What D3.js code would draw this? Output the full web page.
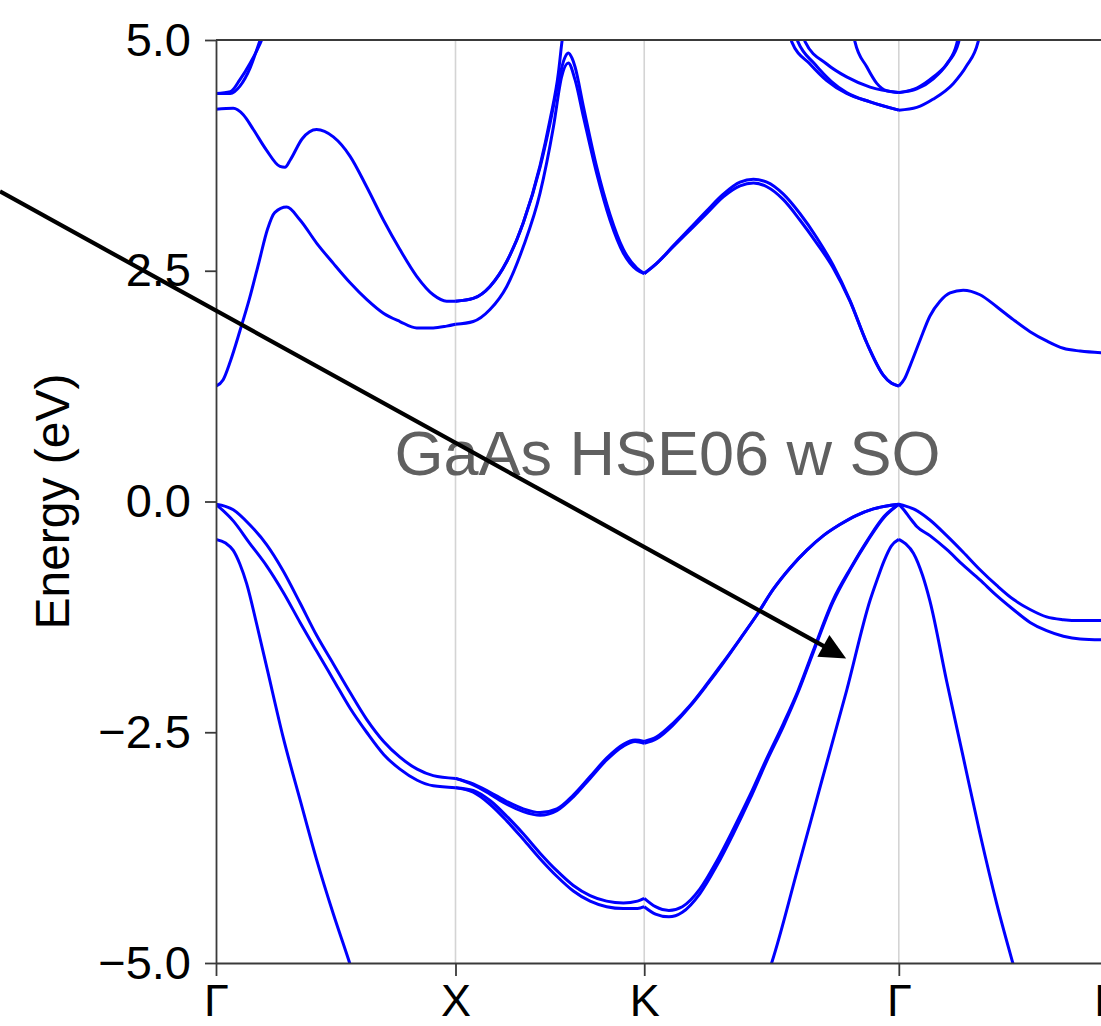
<!DOCTYPE html>
<html>
<head>
<meta charset="utf-8">
<script src="https://cdn.jsdelivr.net/npm/d3@7"></script>
<style>
  body { margin: 0; background: #fff; }
  text { font-family: "Liberation Sans", Arial, Helvetica, sans-serif; }
</style>
</head>
<body>
<div id="chart"></div>
<script>
// high-symmetry points along the path (k in 2pi/a)
var kNodes = [0, 1.0, 1.788, 2.851, 3.717];
var kLabels = ["Γ", "X", "K", "Γ", "L"];
var yTicks = [-5, -2.5, 0, 2.5, 5];

// bands, one array of segments each (k, energy in eV)
var splitOff = [
  [[0,-0.41],[0.04,-0.45],[0.072,-0.53],[0.10,-0.68],[0.128,-0.89],[0.17,-1.33],[0.215,-1.83],[0.28,-2.55],[0.354,-3.26],[0.42,-3.88],[0.49,-4.47],[0.558,-5.0],[0.6,-5.35]],
  [[2.28,-5.3],[2.32,-5.0],[2.43,-3.97],[2.53,-3.02],[2.633,-2.05],[2.731,-1.07],[2.76,-0.85],[2.79,-0.64],[2.82,-0.48],[2.851,-0.41]],
  [[2.851,-0.41],[2.88,-0.46],[2.912,-0.56],[2.95,-0.80],[2.981,-1.08],[3.051,-1.95],[3.12,-2.77],[3.19,-3.60],[3.26,-4.36],[3.327,-5.0],[3.36,-5.3]]
];
var heavyHole1 = [
  [[0,-0.03],[0.072,-0.09],[0.14,-0.25],[0.212,-0.47],[0.28,-0.75],[0.351,-1.1],[0.42,-1.45],[0.49,-1.76],[0.56,-2.07],[0.629,-2.36],[0.70,-2.6],[0.768,-2.77],[0.84,-2.9],[0.907,-2.97],[1.0,-3.0]],
  [[1.0,-3.0],[1.074,-3.06],[1.144,-3.15],[1.214,-3.25],[1.283,-3.33],[1.353,-3.37],[1.423,-3.33],[1.492,-3.18],[1.562,-2.98],[1.631,-2.78],[1.701,-2.63],[1.75,-2.585],[1.788,-2.6]],
  [[1.788,-2.6],[1.84,-2.55],[1.909,-2.40],[1.979,-2.21],[2.049,-1.98],[2.118,-1.74],[2.188,-1.49],[2.258,-1.23],[2.327,-0.95],[2.397,-0.72],[2.466,-0.53],[2.536,-0.37],[2.605,-0.25],[2.675,-0.15],[2.745,-0.08],[2.851,-0.03]],
  [[2.851,-0.03],[2.88,-0.05],[2.912,-0.08],[2.981,-0.20],[3.051,-0.37],[3.12,-0.55],[3.19,-0.74],[3.26,-0.91],[3.329,-1.06],[3.399,-1.17],[3.468,-1.25],[3.538,-1.28],[3.608,-1.29],[3.717,-1.29]]
];
var heavyHole2 = [
  [[1.0,-3.0],[1.074,-3.07],[1.144,-3.17],[1.214,-3.28],[1.283,-3.36],[1.353,-3.40],[1.423,-3.35],[1.492,-3.2],[1.562,-3.0],[1.631,-2.8],[1.701,-2.65],[1.75,-2.6],[1.788,-2.62]],
  [[1.788,-2.62],[1.84,-2.57],[1.909,-2.42],[1.979,-2.22],[2.049,-1.99],[2.118,-1.75],[2.188,-1.49],[2.258,-1.23],[2.327,-0.95],[2.397,-0.72],[2.466,-0.53],[2.536,-0.37],[2.605,-0.25],[2.675,-0.15],[2.745,-0.08],[2.851,-0.03]]
];
var lightHole1 = [
  [[0,-0.03],[0.072,-0.21],[0.14,-0.45],[0.212,-0.70],[0.28,-0.98],[0.351,-1.31],[0.42,-1.62],[0.49,-1.93],[0.56,-2.24],[0.629,-2.50],[0.70,-2.74],[0.768,-2.90],[0.84,-3.02],[0.907,-3.08],[1.0,-3.10]],
  [[1.0,-3.10],[1.074,-3.13],[1.144,-3.24],[1.214,-3.41],[1.283,-3.60],[1.353,-3.81],[1.423,-4.0],[1.492,-4.16],[1.562,-4.27],[1.631,-4.33],[1.701,-4.35],[1.76,-4.33],[1.788,-4.30]],
  [[1.788,-4.30],[1.835,-4.39],[1.891,-4.43],[1.947,-4.39],[2.02,-4.2],[2.09,-3.9],[2.16,-3.55],[2.23,-3.18],[2.30,-2.78],[2.37,-2.40],[2.43,-2.05],[2.493,-1.62],[2.576,-1.07],[2.65,-0.72],[2.72,-0.42],[2.79,-0.16],[2.851,-0.03]],
  [[2.851,-0.03],[2.875,-0.10],[2.898,-0.18],[2.926,-0.27],[2.981,-0.37],[3.051,-0.52],[3.12,-0.69],[3.19,-0.85],[3.26,-1.02],[3.329,-1.17],[3.399,-1.31],[3.468,-1.40],[3.538,-1.46],[3.608,-1.49],[3.717,-1.50]]
];
var lightHole2 = [
  [[1.0,-3.10],[1.074,-3.15],[1.144,-3.28],[1.214,-3.46],[1.283,-3.66],[1.353,-3.87],[1.423,-4.06],[1.492,-4.22],[1.562,-4.33],[1.631,-4.39],[1.701,-4.41],[1.76,-4.41],[1.788,-4.39]],
  [[1.788,-4.39],[1.835,-4.47],[1.891,-4.50],[1.947,-4.45],[2.02,-4.25],[2.09,-3.95],[2.16,-3.60],[2.23,-3.22],[2.30,-2.81],[2.37,-2.43],[2.43,-2.07],[2.493,-1.64],[2.576,-1.09],[2.65,-0.73],[2.72,-0.43],[2.79,-0.17],[2.851,-0.03]]
];
var cond1 = [
  [[0,1.25],[0.03,1.32],[0.06,1.52],[0.1,1.85],[0.14,2.2],[0.18,2.6],[0.215,2.95],[0.245,3.13],[0.295,3.19],[0.351,3.05],[0.42,2.80],[0.49,2.58],[0.56,2.37],[0.629,2.19],[0.699,2.04],[0.768,1.95],[0.838,1.88],[0.907,1.88],[0.963,1.90],[1.0,1.92]],
  [[1.0,1.92],[1.074,1.95],[1.144,2.08],[1.214,2.33],[1.283,2.76],[1.353,3.34],[1.409,4.06],[1.443,4.60],[1.471,4.75],[1.499,4.57],[1.534,4.17],[1.589,3.56],[1.645,3.05],[1.701,2.69],[1.757,2.51],[1.788,2.47]],
  [[1.788,2.47],[1.84,2.58],[1.909,2.76],[1.979,2.94],[2.049,3.12],[2.118,3.30],[2.188,3.42],[2.244,3.45],[2.30,3.41],[2.369,3.27],[2.438,3.05],[2.508,2.80],[2.577,2.53],[2.647,2.17],[2.717,1.72],[2.786,1.37],[2.821,1.28],[2.851,1.25]],
  [[2.851,1.25],[2.875,1.33],[2.898,1.47],[2.94,1.75],[2.981,2.01],[3.023,2.17],[3.065,2.26],[3.12,2.29],[3.19,2.24],[3.26,2.11],[3.329,1.97],[3.399,1.84],[3.468,1.74],[3.538,1.66],[3.608,1.63],[3.717,1.61]]
];
var cond2 = [
  [[0,4.25],[0.072,4.26],[0.114,4.19],[0.156,4.03],[0.21,3.81],[0.267,3.63],[0.288,3.62],[0.31,3.70],[0.36,3.93],[0.42,4.03],[0.49,3.95],[0.56,3.74],[0.629,3.41],[0.699,3.05],[0.768,2.73],[0.838,2.44],[0.907,2.24],[0.963,2.17],[1.0,2.17]],
  [[1.0,2.17],[1.074,2.20],[1.144,2.33],[1.214,2.60],[1.283,3.02],[1.353,3.62],[1.395,4.10],[1.43,4.55],[1.455,4.80],[1.471,4.86],[1.487,4.80],[1.499,4.71],[1.534,4.28],[1.589,3.63],[1.645,3.11],[1.701,2.73],[1.757,2.53],[1.788,2.47]],
  [[1.788,2.47],[1.84,2.58],[1.909,2.77],[1.979,2.96],[2.049,3.15],[2.118,3.33],[2.188,3.46],[2.244,3.49],[2.30,3.46],[2.369,3.33],[2.438,3.12],[2.508,2.86],[2.577,2.56],[2.647,2.18],[2.717,1.72],[2.786,1.37],[2.821,1.28],[2.851,1.25]]
];
var cond3 = [
  [[1.0,2.17],[1.074,2.20],[1.144,2.33],[1.214,2.60],[1.283,3.02],[1.353,3.64],[1.395,4.14],[1.43,4.65],[1.443,4.95],[1.46,5.3]],
  [[2.38,5.2],[2.404,4.98],[2.48,4.74],[2.55,4.56],[2.633,4.42],[2.731,4.33],[2.851,4.24]],
  [[2.851,4.24],[2.926,4.27],[2.995,4.36],[3.079,4.53],[3.134,4.72],[3.182,4.98],[3.2,5.2]]
];
var cond4 = [
  [[0,4.42],[0.06,4.44],[0.1,4.57],[0.143,4.75],[0.184,4.96],[0.22,5.2]],
  [[2.40,5.2],[2.43,4.98],[2.50,4.74],[2.57,4.55],[2.633,4.43],[2.731,4.33],[2.851,4.24]],
  [[2.851,4.43],[2.926,4.47],[2.995,4.58],[3.051,4.74],[3.093,4.96],[3.11,5.2]]
];
var cond5 = [
  [[0,4.42],[0.06,4.42],[0.1,4.50],[0.143,4.70],[0.175,4.93],[0.21,5.2]],
  [[2.44,5.2],[2.46,4.98],[2.55,4.74],[2.633,4.60],[2.731,4.49],[2.851,4.43]],
  [[2.851,4.43],[2.926,4.48],[2.995,4.60],[3.058,4.76],[3.10,4.97],[3.12,5.2]]
];
var cond6 = [
  [[2.655,5.2],[2.668,4.98],[2.717,4.71],[2.759,4.53],[2.80,4.45],[2.851,4.43]]
];

// annotation (text position, arrow start and tip in data units)
var annText = "GaAs HSE06 w SO";
var annTextPos = [0.745, 0.29];
var arrowFrom = [-0.902, 3.36];
var arrowTo = [2.631, -1.70];

// size and margin
var width = 1101;
var height = 1026;
var margin = {top: 40, left: 216, bottom: 63};
var unit = 239.5; // px per k unit
var band_color = "#0000ff";

var svg = d3.select("#chart")
            .append("svg")
            .attr("width", width)
            .attr("height", height);

var xScale = d3.scaleLinear()
               .domain([kNodes[0], kNodes[kNodes.length - 1]])
               .range([margin.left, margin.left + unit * kNodes[kNodes.length - 1]]);
var yScale = d3.scaleLinear()
               .domain([-5, 5])
               .range([height - margin.bottom, margin.top]);

var x0 = xScale.range()[0], x1 = xScale.range()[1];
var y0 = yScale.range()[1], y1 = yScale.range()[0];

// vertical grid lines at the high-symmetry points
svg.append("g")
   .selectAll("line")
   .data(kNodes.slice(1))
   .enter().append("line")
   .attr("x1", function(d) { return xScale(d); })
   .attr("x2", function(d) { return xScale(d); })
   .attr("y1", y0)
   .attr("y2", y1)
   .attr("stroke", "#d4d4d4")
   .attr("stroke-width", 1.6);

// clip path for the bands
svg.append("clipPath")
   .attr("id", "plot-clip")
   .append("rect")
   .attr("x", x0)
   .attr("y", y0)
   .attr("width", x1 - x0)
   .attr("height", y1 - y0);

var line = d3.line()
             .x(function(d) { return xScale(d[0]); })
             .y(function(d) { return yScale(d[1]); })
             .curve(d3.curveMonotoneX);

var bands = [splitOff, heavyHole1, heavyHole2, lightHole1, lightHole2,
             cond1, cond2, cond3, cond4, cond5, cond6];
var plot = svg.append("g").attr("clip-path", "url(#plot-clip)");
bands.forEach(function(band) {
  band.forEach(function(seg) {
    plot.append("path")
        .attr("d", line(seg))
        .attr("fill", "none")
        .attr("stroke", band_color)
        .attr("stroke-width", 3)
        .attr("stroke-linejoin", "round");
  });
});

// axes
var yAxis = svg.append("g")
   .attr("transform", "translate(" + x0 + ",0)")
   .call(d3.axisLeft(yScale)
           .tickValues(yTicks)
           .tickSize(11)
           .tickSizeOuter(0)
           .tickPadding(14)
           .tickFormat(d3.format(".1f")));
var xAxis = svg.append("g")
   .attr("transform", "translate(0," + y1 + ")")
   .call(d3.axisBottom(xScale)
           .tickValues(kNodes)
           .tickSize(13)
           .tickSizeOuter(0)
           .tickFormat(function(d, i) { return kLabels[i]; }));
[yAxis, xAxis].forEach(function(ax) {
  ax.selectAll("path, line").attr("stroke", "#3a3a3a").attr("stroke-width", 1.8);
  ax.selectAll("text").attr("fill", "#000").attr("font-size", 47)
    .style("font-family", "'Liberation Sans', Arial, sans-serif");
});
// x labels: keep the whole text box inside the bottom edge
xAxis.selectAll("text")
     .attr("font-size", 45)
     .attr("dy", null)
     .attr("y", 53);

// top spine
svg.append("line")
   .attr("x1", x0).attr("x2", x1)
   .attr("y1", y0).attr("y2", y0)
   .attr("stroke", "#3a3a3a")
   .attr("stroke-width", 1.8);

// y label
svg.append("text")
   .attr("transform", "translate(69," + yScale(0) + ") rotate(-90)")
   .attr("text-anchor", "middle")
   .attr("font-size", 48)
   .attr("fill", "#000")
   .text("Energy (eV)");

// annotation
svg.append("text")
   .attr("x", xScale(annTextPos[0]))
   .attr("y", yScale(annTextPos[1]))
   .attr("font-size", 63)
   .attr("fill", "#606060")
   .text(annText);

var ax0 = xScale(arrowFrom[0]), ay0 = yScale(arrowFrom[1]);
var ax1 = xScale(arrowTo[0]), ay1 = yScale(arrowTo[1]);
var len = Math.hypot(ax1 - ax0, ay1 - ay0);
var ux = (ax1 - ax0) / len, uy = (ay1 - ay0) / len;
var headLen = 26, headHalf = 12.5;
var bx = ax1 - ux * headLen, by = ay1 - uy * headLen;
svg.append("line")
   .attr("x1", ax0).attr("y1", ay0)
   .attr("x2", bx + ux * 2).attr("y2", by + uy * 2)
   .attr("stroke", "#000")
   .attr("stroke-width", 4.2);
svg.append("polygon")
   .attr("points", [[ax1, ay1],
                    [bx - uy * headHalf, by + ux * headHalf],
                    [bx + uy * headHalf, by - ux * headHalf]].join(" "))
   .attr("fill", "#000");
</script>
</body>
</html>
